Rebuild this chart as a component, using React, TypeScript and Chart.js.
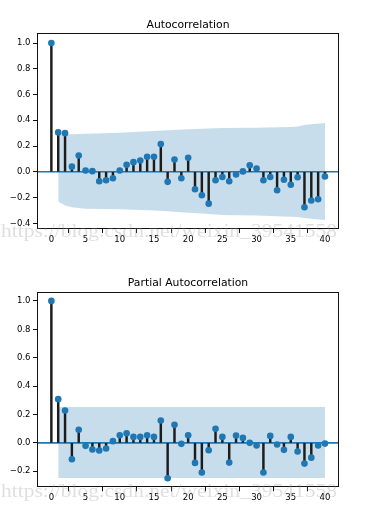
import React, { useEffect, useRef } from "react";
import { Chart, registerables } from "chart.js";

Chart.register(...registerables);

// ---------- data ----------
const LAGS = [0, 1, 2, 3, 4, 5, 6, 7, 8, 9, 10, 11, 12, 13, 14, 15, 16, 17, 18, 19, 20,
  21, 22, 23, 24, 25, 26, 27, 28, 29, 30, 31, 32, 33, 34, 35, 36, 37, 38, 39, 40];

const ACF_VALUES = [1.0, 0.306, 0.3, 0.04, 0.127, 0.01, 0.005, -0.073, -0.065, -0.05, 0.01,
  0.055, 0.075, 0.088, 0.117, 0.117, 0.215, -0.078, 0.096, -0.05, 0.109,
  -0.135, -0.182, -0.247, -0.065, -0.04, -0.073, -0.02, 0.003, 0.05, 0.026,
  -0.065, -0.04, -0.143, -0.062, -0.1, -0.042, -0.275, -0.223, -0.213, -0.036];

const PACF_VALUES = [1.0, 0.308, 0.228, -0.115, 0.092, -0.021, -0.047, -0.054, -0.04, 0.012, 0.054,
  0.068, 0.042, 0.042, 0.054, 0.042, 0.158, -0.249, 0.127, -0.007, 0.054,
  -0.141, -0.209, -0.052, 0.099, 0.042, -0.139, 0.052, 0.035, 0.0, -0.019,
  -0.209, 0.049, -0.012, -0.049, 0.042, -0.061, -0.146, -0.104, -0.019, -0.005];

const ACF_BAND_LAGS = [1, 2, 3, 5, 10, 15, 17, 20, 22, 24, 25, 30, 35, 36, 37, 38, 40];
const ACF_BAND_UPPER = [0.288, 0.289, 0.291, 0.296, 0.304, 0.316, 0.322, 0.33, 0.335, 0.339, 0.34,
  0.343, 0.348, 0.351, 0.363, 0.37, 0.379];
const ACF_BAND_LOWER = [-0.231, -0.262, -0.275, -0.286, -0.291, -0.301, -0.306, -0.317, -0.324, -0.332,
  -0.335, -0.34, -0.348, -0.35, -0.358, -0.364, -0.374];

const PACF_BAND_LAGS = [1, 40];
const PACF_BAND_UPPER = [0.253, 0.253];
const PACF_BAND_LOWER = [-0.248, -0.248];

const X_TICKS = [0, 5, 10, 15, 20, 25, 30, 35, 40];
const ACF_Y_TICKS = [-0.4, -0.2, 0.0, 0.2, 0.4, 0.6, 0.8, 1.0];
const PACF_Y_TICKS = [-0.2, 0.0, 0.2, 0.4, 0.6, 0.8, 1.0];

const X_MIN = -2.1;
const X_MAX = 42.05;

const WATERMARK = "https://blog.csdn.net/weixin_39541558";

// ---------- style ----------
const C0 = "#1f77b4";
const BAND = "rgba(31,119,180,0.25)";
const STEM = "#1c1c1c";
const FONT = "'DejaVu Sans', sans-serif";

const framePlugin = {
  id: "frame",
  afterDatasetsDraw(chart: any) {
    const { ctx, chartArea } = chart;
    const l = Math.round(chartArea.left) + 0.5;
    const t = Math.round(chartArea.top) + 0.5;
    const r = Math.round(chartArea.right) - 0.5;
    const b = Math.round(chartArea.bottom) - 0.5;
    ctx.save();
    ctx.strokeStyle = "#111";
    ctx.lineWidth = 1;
    ctx.strokeRect(l, t, r - l, b - t);
    ctx.restore();
  },
};

function fmtY(v: number) {
  const s = Math.abs(v).toFixed(1);
  return v < -1e-9 ? "\u2212" + s : s;
}

type Props = {
  title: string;
  values: number[];
  bandLags: number[];
  upper: number[];
  lower: number[];
  yTicks: number[];
  yMin: number;
  yMax: number;
  height: number;
  titlePadTop: number;
  titlePadBottom: number;
  xAxisHeight: number;
};

function StemChart(p: Props) {
  const ref = useRef<HTMLCanvasElement | null>(null);
  useEffect(() => {
    if (!ref.current) return;
    const chart = new Chart(ref.current, {
      type: "scatter",
      data: {
        datasets: [
          {
            type: "line",
            data: p.bandLags.map((x, i) => ({ x, y: p.upper[i] })),
            borderWidth: 0,
            borderColor: "rgba(0,0,0,0)",
            backgroundColor: BAND,
            pointRadius: 0,
            fill: false,
            order: 5,
          },
          {
            type: "line",
            data: p.bandLags.map((x, i) => ({ x, y: p.lower[i] })),
            borderWidth: 0,
            borderColor: "rgba(0,0,0,0)",
            backgroundColor: BAND,
            pointRadius: 0,
            fill: "-1",
            order: 4,
          },
          {
            type: "line",
            data: [{ x: X_MIN, y: 0 }, { x: X_MAX, y: 0 }],
            borderColor: C0,
            borderWidth: 1.6,
            pointRadius: 0,
            fill: false,
            order: 3,
          },
          {
            type: "bar",
            data: LAGS.map((x, i) => ({ x, y: p.values[i] })),
            backgroundColor: STEM,
            borderWidth: 0,
            barThickness: 1.8,
            order: 2,
          },
          {
            type: "scatter",
            data: LAGS.map((x, i) => ({ x, y: p.values[i] })),
            backgroundColor: C0,
            borderWidth: 0,
            pointRadius: 3.3,
            order: 1,
          },
        ],
      } as any,
      options: {
        responsive: false,
        animation: false,
        devicePixelRatio: 1,
        layout: { padding: { left: 0, right: 35, top: 0, bottom: 0 } },
        plugins: {
          legend: { display: false },
          tooltip: { enabled: false },
          title: {
            display: true,
            fullSize: false,
            text: p.title,
            color: "#000",
            font: { family: FONT, size: 10.8, weight: "normal" as any, lineHeight: 1.2 },
            padding: { top: p.titlePadTop, bottom: p.titlePadBottom },
          },
        },
        scales: {
          x: {
            type: "linear",
            min: X_MIN,
            max: X_MAX,
            offset: false,
            afterBuildTicks: (s: any) => {
              s.ticks = X_TICKS.map((value) => ({ value }));
            },
            afterFit: (s: any) => {
              s.height = p.xAxisHeight;
            },
            grid: {
              display: true,
              drawOnChartArea: false,
              drawTicks: true,
              tickLength: 4,
              color: "#111",
              lineWidth: 1,
            },
            border: { display: false },
            ticks: {
              color: "#000",
              font: { family: FONT, size: 8.5 },
              padding: 1.5,
              maxRotation: 0,
              autoSkip: false,
              callback: (v: any) => String(v),
            },
          },
          y: {
            type: "linear",
            min: p.yMin,
            max: p.yMax,
            afterBuildTicks: (s: any) => {
              s.ticks = p.yTicks.map((value) => ({ value }));
            },
            afterFit: (s: any) => {
              s.width = 37;
            },
            grid: {
              display: true,
              drawOnChartArea: false,
              drawTicks: true,
              tickLength: 4,
              color: "#111",
              lineWidth: 1,
            },
            border: { display: false },
            ticks: {
              color: "#000",
              font: { family: FONT, size: 8.5 },
              padding: 2.5,
              autoSkip: false,
              callback: (v: any) => fmtY(Number(v)),
            },
          },
        },
      } as any,
      plugins: [framePlugin],
    });
    return () => chart.destroy();
  }, []);
  return (
    <canvas
      ref={ref}
      width={374}
      height={p.height}
      style={{ display: "block", width: 374, height: p.height }}
    />
  );
}

export default function App() {
  return (
    <div
      style={{
        position: "absolute",
        left: 0,
        top: 0,
        width: 374,
        height: 521,
        background: "#fff",
        overflow: "hidden",
      }}
    >
      <StemChart
        title="Autocorrelation"
        values={ACF_VALUES}
        bandLags={ACF_BAND_LAGS}
        upper={ACF_BAND_UPPER}
        lower={ACF_BAND_LOWER}
        yTicks={ACF_Y_TICKS}
        yMin={-0.444}
        yMax={1.078}
        height={260}
        titlePadTop={18.5}
        titlePadBottom={1.5}
        xAxisHeight={31}
      />
      <StemChart
        title="Partial Autocorrelation"
        values={PACF_VALUES}
        bandLags={PACF_BAND_LAGS}
        upper={PACF_BAND_UPPER}
        lower={PACF_BAND_LOWER}
        yTicks={PACF_Y_TICKS}
        yMin={-0.313}
        yMax={1.061}
        height={261}
        titlePadTop={16.8}
        titlePadBottom={2.5}
        xAxisHeight={33.7}
      />
      <svg
        width={374}
        height={521}
        style={{ position: "absolute", left: 0, top: 0, pointerEvents: "none" }}
      >
        {[237, 497].map((y) => (
          <text
            key={y}
            x={1}
            y={y}
            textLength={336}
            lengthAdjust="spacingAndGlyphs"
            fontFamily="'Liberation Serif', serif"
            fontSize={19}
            fill="rgba(150,150,150,0.3)"
          >
            {WATERMARK}
          </text>
        ))}
      </svg>
    </div>
  );
}
